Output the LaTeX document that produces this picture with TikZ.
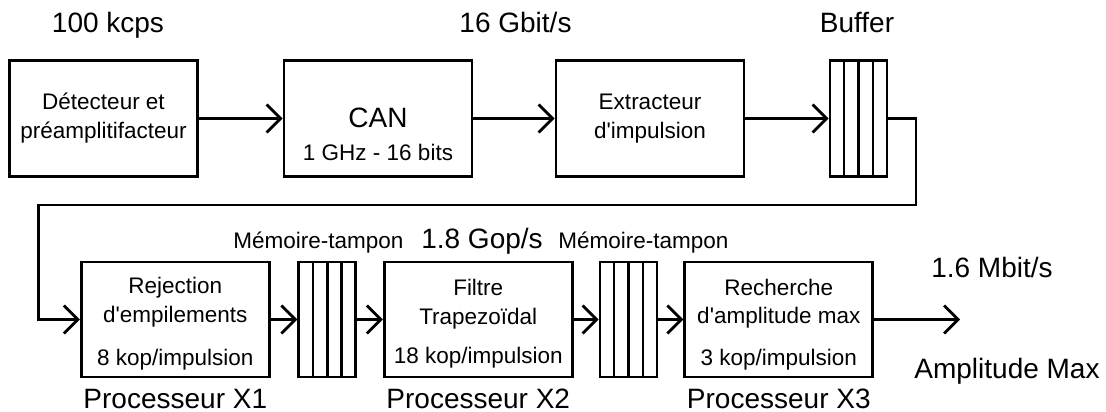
\documentclass[tikz,border=0pt]{standalone}
\usepackage{fontspec}
\setmainfont{Liberation Sans}
\usetikzlibrary{arrows.meta,calc}
\newcommand{\apo}{\textquotesingle}
\begin{document}
\begin{tikzpicture}[x=1pt,y=-1pt,
  box/.style={draw, line width=2.8pt, inner sep=0pt, rectangle, minimum width=188pt},
  toprow/.style={minimum height=116pt},
  botrow/.style={minimum height=115pt},
  fifo/.style={draw, line width=2.8pt, inner sep=0pt, rectangle, minimum width=57pt,
    path picture={\foreach \f in {0.25,0.5,0.75}{\draw[line width=2.4pt]
      ($(path picture bounding box.north west)!\f!(path picture bounding box.north east)$) --
      ($(path picture bounding box.south west)!\f!(path picture bounding box.south east)$);}}},
  big/.style={inner sep=0pt, anchor=base, font=\fontsize{28}{34}\selectfont},
  small/.style={inner sep=0pt, anchor=base, font=\fontsize{22.5}{27}\selectfont},
  conn/.style={line width=2.8pt, -{Straight Barb[length=14pt,width=28pt]}},
  wire/.style={line width=2.8pt}
]
\useasboundingbox (0,0) rectangle (1106,412);

% top row
\node[box, toprow] (det) at (103.5,118.5) {};
\node[box, toprow] (can) at (378,118.5) {};
\node[box, toprow] (ext) at (650,118.5) {};
\node[fifo, toprow] (buf1) at (858.5,118.5) {};

% bottom row
\node[box, botrow] (rej) at (175.3,319.5) {};
\node[fifo, botrow] (buf2) at (327.3,319.5) {};
\node[box, botrow] (fil) at (478.25,319.5) {};
\node[fifo, botrow] (buf3) at (628.5,319.5) {};
\node[box, botrow] (rech) at (778.8,319.5) {};

% labels top
\node[big] (l100) at (108,33) {100 kcps};
\node[big] (l16) at (515.5,33) {16 Gbit/s};
\node[big] (lbuf) at (857,33) {Buffer};

\node[small] (det1) at (103.5,110) {Détecteur et};
\node[small] (det2) at (103.5,138) {préamplitifacteur};
\node[big] (can1) at (378,128) {CAN};
\node[small] (can2) at (378,160) {1 GHz - 16 bits};
\node[small] (ext1) at (650,110) {Extracteur};
\node[small] (ext2) at (650,138) {d\apo impulsion};

% labels bottom
\node[small] (mem1) at (318.5,248) {Mémoire-tampon};
\node[big] (gop) at (482,248) {1.8 Gop/s};
\node[small] (mem2) at (643.5,248) {Mémoire-tampon};
\node[big] (mbit) at (992,277) {1.6 Mbit/s};
\node[big] (amax) at (1007,378) {Amplitude Max};

\node[small] (rej1) at (175.3,293) {Rejection};
\node[small] (rej2) at (175.3,322) {d\apo empilements};
\node[small] (rej3) at (175.3,365) {8 kop/impulsion};
\node[small] (fil1) at (478.25,295) {Filtre};
\node[small] (fil2) at (478.25,324) {Trapezoïdal};
\node[small] (fil3) at (478.25,363) {18 kop/impulsion};
\node[small] (rech1) at (778.8,295) {Recherche};
\node[small] (rech2) at (778.8,323) {d\apo amplitude max};
\node[small] (rech3) at (778.8,365) {3 kop/impulsion};

\node[big] (px1) at (175.3,408) {Processeur X1};
\node[big] (px2) at (478.25,408) {Processeur X2};
\node[big] (px3) at (778.8,408) {Processeur X3};

% connectors
\coordinate (r1) at (916,205);
\coordinate (r2) at (38.6,205);
\coordinate (out) at (960,319.5);

\draw[conn] (det.east) -- (can.west);
\draw[conn] (can.east) -- (ext.west);
\draw[conn] (ext.east) -- (buf1.west);
\draw[conn] (buf1.east) -| (r1) -- (r2) |- (rej.west);
\draw[conn] (rej.east) -- (buf2.west);
\draw[conn] (buf2.east) -- (fil.west);
\draw[conn] (fil.east) -- (buf3.west);
\draw[conn] (buf3.east) -- (rech.west);
\draw[conn] (rech.east) -- (out);
\end{tikzpicture}
\end{document}
